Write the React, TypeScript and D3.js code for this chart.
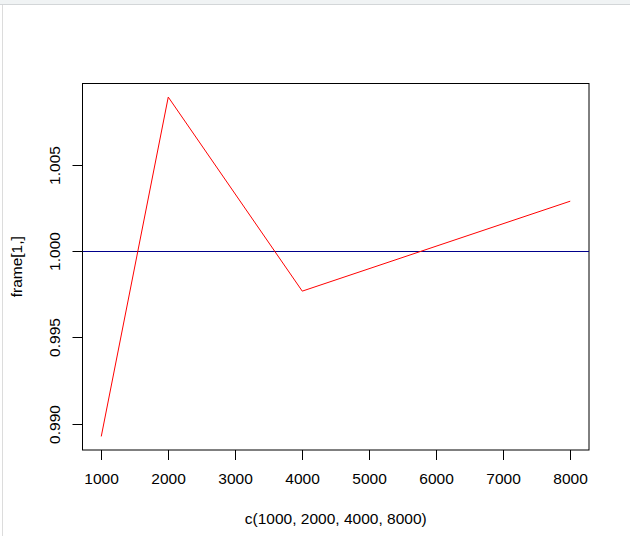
import { scaleLinear, line as d3line } from "d3";

// values
const xs = [1000, 2000, 4000, 8000];
const ys = [0.98926, 1.00895, 0.99769, 1.00291];
const xTicks = [1000, 2000, 3000, 4000, 5000, 6000, 7000, 8000];
const yTicks = [0.99, 0.995, 1.0, 1.005];
const hLine = 1.0;
const xTitle = "c(1000, 2000, 4000, 8000)";
const yTitle = "frame[1,]";

const W = 630, H = 536;
const P = { left: 82.5, right: 589, top: 83.5, bottom: 450 };
const FONT = "'Liberation Sans', Arial, sans-serif";

export default function App() {
  // R-style 4% padding on the data range
  const xPad = (8000 - 1000) * 0.04;
  const yMin = Math.min(...ys), yMax = Math.max(...ys);
  const yPad = (yMax - yMin) * 0.04;
  const sx = scaleLinear().domain([1000 - xPad, 8000 + xPad]).range([P.left, P.right]);
  const sy = scaleLinear().domain([yMin - yPad, yMax + yPad]).range([P.bottom, P.top]);
  const pts = xs.map((x, i) => [x, ys[i]] as [number, number]);
  const path = d3line<[number, number]>().x(d => sx(d[0])).y(d => sy(d[1]))(pts) ?? "";

  return (
    <div style={{ position: "fixed", left: 0, top: 0 }}>
      <svg width={W} height={H} style={{ display: "block", background: "#fff" }}>
        {/* window chrome */}
        <rect x={0} y={0} width={W} height={4} fill="#f0f3f4" />
        <line x1={0} x2={W} y1={4.5} y2={4.5} stroke="#d3d6d8" />
        <line x1={2.5} x2={2.5} y1={5} y2={H} stroke="#dcdcdc" />

        <rect x={P.left} y={P.top} width={P.right - P.left} height={P.bottom - P.top}
          fill="none" stroke="#000" strokeWidth={1} />

        <line x1={P.left} x2={P.right} y1={Math.round(sy(hLine)) + 0.5} y2={Math.round(sy(hLine)) + 0.5}
          stroke="#00008b" strokeWidth={1} />

        <path d={path} fill="none" stroke="#ff0000" strokeWidth={1} />

        {xTicks.map(t => (
          <g key={t} transform={`translate(${Math.round(sx(t)) + 0.5},0)`}>
            <line y1={P.bottom} y2={P.bottom + 10} stroke="#000" />
            <text y={484} textAnchor="middle" fontSize={15.5} fontFamily={FONT} fill="#000">{t}</text>
          </g>
        ))}
        {yTicks.map(t => (
          <g key={t} transform={`translate(0,${Math.round(sy(t)) + 0.5})`}>
            <line x1={P.left - 10} x2={P.left} stroke="#000" />
            <text transform="translate(60,0) rotate(-90)" textAnchor="middle" fontSize={15.5}
              fontFamily={FONT} fill="#000">{t.toFixed(3)}</text>
          </g>
        ))}

        <text x={(P.left + P.right) / 2} y={524} textAnchor="middle" fontSize={15.5}
          fontFamily={FONT} fill="#000">{xTitle}</text>
        <text transform={`translate(22,${(P.top + P.bottom) / 2}) rotate(-90)`} textAnchor="middle"
          fontSize={15.5} fontFamily={FONT} fill="#000">{yTitle}</text>
      </svg>
    </div>
  );
}
